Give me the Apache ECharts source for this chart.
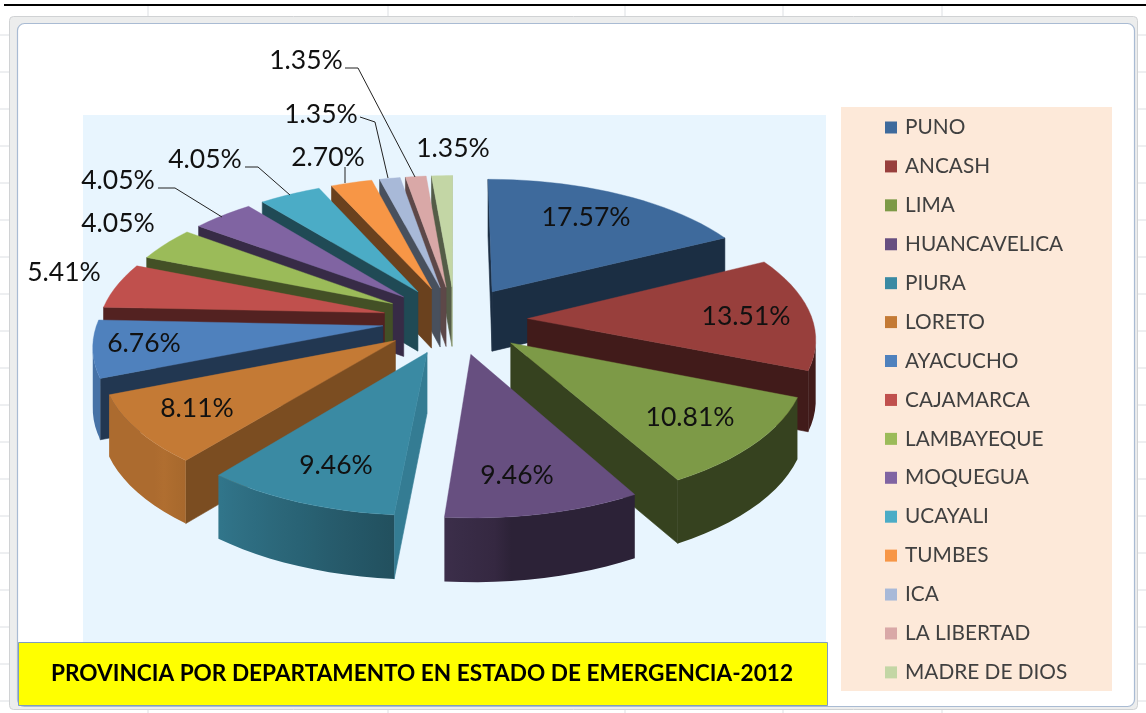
<!DOCTYPE html>
<html><head><meta charset="utf-8">
<style>html,body{margin:0;padding:0;background:#fff}#c{width:1146px;height:713px}</style>
<script src="https://cdn.jsdelivr.net/npm/echarts@6/dist/echarts.min.js"></script>
</head><body><div id="c"></div>
<script>
const categories=['PUNO','ANCASH','LIMA','HUANCAVELICA','PIURA','LORETO','AYACUCHO','CAJAMARCA','LAMBAYEQUE','MOQUEGUA','UCAYALI','TUMBES','ICA','LA LIBERTAD','MADRE DE DIOS'];
const percentages=[17.57,13.51,10.81,9.46,9.46,8.11,6.76,5.41,4.05,4.05,4.05,2.70,1.35,1.35,1.35];
const colors=['#3e6a9c','#983f3c','#7d9a47','#674f80','#3a8aa3','#c47a35','#4f81bd','#c0504d','#9bbb59','#8064a2','#4bacc6','#f79646','#a8b9d8','#d9a8a7','#c3d6a5'];
const labelCenters=[[586,217],[746,316],[690,417],[517,475],[336,465],[197,408],[144,343],[64,272],[118,223],[118,180],[205,159],[328,157],[321,114],[306,60],[453,148]];
const leaders=[null,null,null,null,null,null,null,null,null,[[158,188],[175,188],[222,217]],[[245,167],[258,167],[290,195]],[[345,167],[345,183]],[[360,117],[375,122],[388,178]],[[345,68],[358,68],[415,177]],null];

const P={cx:455,cy:320,A:133.4,B:285,k:0.1265,D:60,e:0.255};
function proj(u,v,h){const s=1/(1-P.k*v);return [P.cx+P.B*u*s,P.cy+P.A*v*s+h*P.D*Math.pow(s,0.4)];}
function shade(hex,f){const n=parseInt(hex.slice(1),16);return 'rgb('+[(n>>16)&255,(n>>8)&255,n&255].map(c=>Math.round(c*f)).join(',')+')';}
function norm(a){return ((a%360)+360)%360;}
function outerF(t){t=norm(t);if(t<175)return .43;if(t<225)return .5+(t-175)/50*.4;return .88;}
function radialF(n){n=norm(n);if(n<=100&&n>=60)return .9;if(n>100&&n<150)return .9-(n-100)/50*.47;return .43;}

const total=percentages.reduce((a,b)=>a+b,0);
const starts=[];percentages.reduce((acc,v,i)=>{starts[i]=acc;return acc+v;},0);
const rad=d=>d*Math.PI/180;
function sliceGeom(i){
  const a0=starts[i]/total*360,a1=(starts[i]+percentages[i])/total*360,m=(a0+a1)/2;
  return {a0,a1,m,ox:P.e*Math.sin(rad(m)),oy:-P.e*Math.cos(rad(m))};
}
function wall(a,b,fill){
  return {type:'polygon',shape:{points:[[a[0],a[1]],[b[0],b[1]],[b[2],b[3]],[a[2],a[3]]]},style:{fill,stroke:fill,lineWidth:.6}};
}
function pt(g,deg,r){
  const u=g.ox+r*Math.sin(rad(deg)),v=g.oy-r*Math.cos(rad(deg));
  const t=proj(u,v,0),d=proj(u,v,1);
  return [t[0],t[1],d[0],d[1],deg];
}
function outerWall(arc,col){
  // arc points run clockwise; keep those whose edge heads left on screen (front-facing)
  const vis=[];
  for(let j=0;j<arc.length-1;j++){
    if(arc[j+1][0]<arc[j][0]){ if(!vis.length||vis[vis.length-1]!==arc[j])vis.push(arc[j]); vis.push(arc[j+1]); }
  }
  if(vis.length<2)return null;
  const x0=vis[vis.length-1][0],x1=vis[0][0],span=Math.max(x1-x0,1);
  const stops=vis.map(p=>({offset:(p[0]-x0)/span,color:shade(col,outerF(p[4]))})).reverse();
  const pts=vis.map(p=>[p[0],p[1]]).concat(vis.slice().reverse().map(p=>[p[2],p[3]]));
  return {type:'polygon',shape:{points:pts},style:{fill:new echarts.graphic.LinearGradient(x0,0,x1,0,stops,true)}};
}
function renderSlice(i){
  const g=sliceGeom(i),col=colors[i],kids=[];
  const apex=pt(g,g.a0,0),n=Math.max(4,Math.ceil((g.a1-g.a0)/3));
  const arc=[];for(let j=0;j<=n;j++)arc.push(pt(g,g.a0+(g.a1-g.a0)*j/n,1));
  const first=arc[0],last=arc[n];
  if(first[0]<apex[0]) kids.push(wall(apex,first,shade(col,radialF(g.a0-90))));
  if(apex[0]<last[0]) kids.push(wall(last,apex,shade(col,radialF(g.a1+90))));
  const ow=outerWall(arc,col); if(ow)kids.push(ow);
  kids.push({type:'polygon',shape:{points:[[apex[0],apex[1]]].concat(arc.map(p=>[p[0],p[1]]))},style:{fill:col,stroke:col,lineWidth:.4}});
  if(leaders[i])kids.push({type:'polyline',shape:{points:leaders[i]},style:{fill:null,stroke:'#222',lineWidth:1}});
  kids.push({type:'text',z2:10,style:{text:percentages[i].toFixed(2)+'%',x:labelCenters[i][0],y:labelCenters[i][1],align:'center',verticalAlign:'middle',fill:'#111',font:'26.5px Lato'}});
  return {type:'group',children:kids};
}
// paint back-to-front
const order=categories.map((_,i)=>i).sort((a,b)=>(-Math.cos(rad(sliceGeom(a).m)))-(-Math.cos(rad(sliceGeom(b).m))));
const zOf={};order.forEach((idx,pos)=>zOf[idx]=pos+2);

const bg=[];
const gridCol='#dcdfe3';
[35,72,109,146,183,220,257,294,331,368,405,442,479,516,553,590,627,664,701].forEach(y=>{
  bg.push({type:'line',shape:{x1:0,y1:y,x2:10,y2:y},style:{stroke:gridCol,lineWidth:1},z:0});
  bg.push({type:'line',shape:{x1:1137,y1:y,x2:1146,y2:y},style:{stroke:gridCol,lineWidth:1},z:0});
});
[148,388,625,783,942].forEach(x=>{
  bg.push({type:'line',shape:{x1:x,y1:6,x2:x,y2:22},style:{stroke:gridCol,lineWidth:1},z:0});
  bg.push({type:'line',shape:{x1:x,y1:707,x2:x,y2:713},style:{stroke:gridCol,lineWidth:1},z:0});
});
const graphic=bg.concat([
 {type:'line',shape:{x1:4,y1:5,x2:1146,y2:5},style:{stroke:'#000',lineWidth:2},z:1},
 {type:'rect',shape:{x:9.5,y:16.5,width:1128,height:693,r:4},style:{fill:'#eceded',stroke:'#d0d2d4',lineWidth:1},z:1},
 {type:'rect',shape:{x:17.5,y:23.5,width:1117,height:683,r:7},style:{fill:'#fff',stroke:'#a9bbd3',lineWidth:1.2},z:1},
 {type:'rect',shape:{x:83,y:115,width:743,height:530},style:{fill:'#e8f5fe'},z:1},
 {type:'rect',shape:{x:841,y:107,width:271,height:584},style:{fill:'#fde9d9'},z:1},
 {type:'rect',shape:{x:18.5,y:642.5,width:809,height:63},style:{fill:'#ffff00',stroke:'#7f9dbe',lineWidth:1},z:30},
]);

const chart=echarts.init(document.getElementById('c'),null,{renderer:'canvas'});
chart.setOption({
  animation:false,
  backgroundColor:'#fff',
  title:{text:'PROVINCIA POR DEPARTAMENTO EN ESTADO DE EMERGENCIA-2012',left:422,top:674,textAlign:'center',textVerticalAlign:'middle',
    textStyle:{fontFamily:'Lato',fontWeight:'bold',fontSize:22.6,color:'#000'},padding:0,z:40},
  legend:{orient:'vertical',left:885,top:117,height:590,itemWidth:12,itemHeight:12,itemGap:17.92,padding:0,icon:'rect',
    data:categories,selectedMode:false,
    textStyle:{fontFamily:'Lato',fontSize:20.8,color:'#404040',padding:[0,0,0,3]},z:20},
  graphic:graphic,
  series:categories.map((name,i)=>({
    type:'custom',name,coordinateSystem:'none',silent:true,z:zOf[i],
    itemStyle:{color:colors[i]},
    data:[[percentages[i]]],
    renderItem:()=>renderSlice(i)
  }))
});
</script></body></html>
